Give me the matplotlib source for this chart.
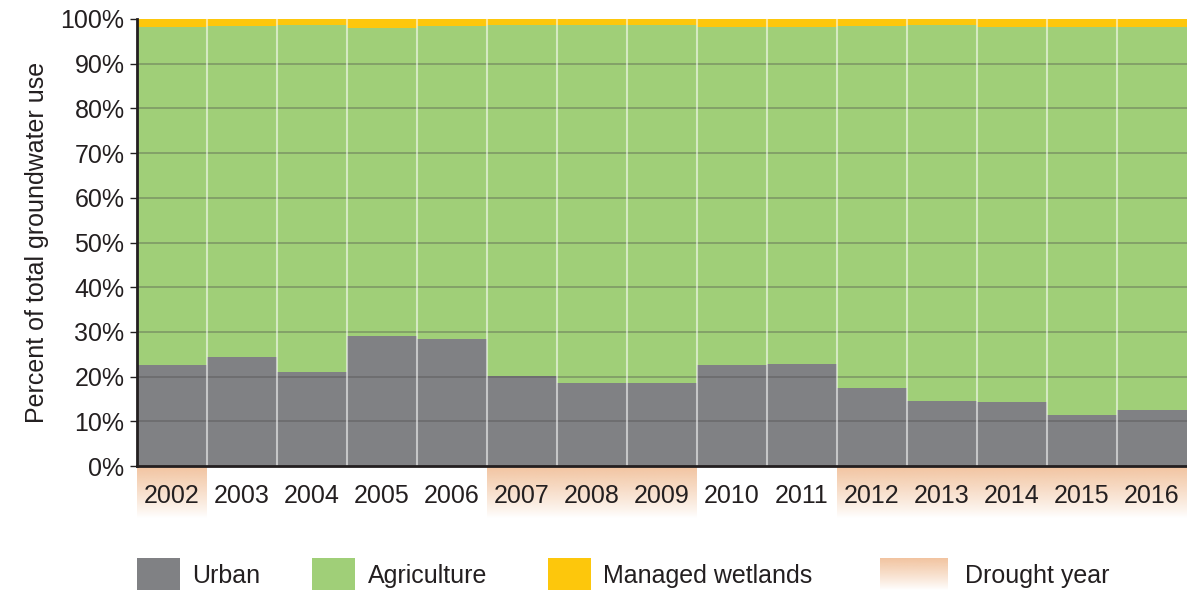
import numpy as np
import matplotlib
matplotlib.use("Agg")
import matplotlib.pyplot as plt
from matplotlib.patches import Rectangle
from matplotlib.colors import to_rgb

plt.rcParams['font.family'] = ['Liberation Sans Narrow', 'Liberation Sans', 'DejaVu Sans']

years = ['2002', '2003', '2004', '2005', '2006', '2007', '2008', '2009',
         '2010', '2011', '2012', '2013', '2014', '2015', '2016']
urban = [22.5, 24.3, 21.0, 29.1, 28.4, 20.2, 18.5, 18.5,
         22.6, 22.9, 17.4, 14.6, 14.3, 11.3, 12.5]
wetlands = [1.7, 1.5, 1.3, 2.0, 1.6, 1.4, 1.4, 1.3,
            1.7, 1.7, 1.5, 1.4, 1.7, 1.7, 1.8]
drought = [True, False, False, False, False, True, True, True,
           False, False, True, True, True, True, True]
yticks = [0, 10, 20, 30, 40, 50, 60, 70, 80, 90, 100]
legend_labels = ['Urban', 'Agriculture', 'Managed wetlands', 'Drought year']

GRAY = '#808184'
GREEN = '#a0cf78'
YELLOW = '#fdc70c'
DROUGHT = '#f2c4a0'
TEXT = '#231f20'

urban_a = np.array(urban)
wet_a = np.array(wetlands)
agri_a = 100 - urban_a - wet_a

W, H = 1187, 590
fig = plt.figure(figsize=(W / 100, H / 100), dpi=100)

x0, x1 = 137, 1187
ytop, ybot = 19, 466
ax = fig.add_axes([x0 / W, 1 - ybot / H, (x1 - x0) / W, (ybot - ytop) / H])
ax.set_zorder(3)
n = len(years)
x = np.arange(n)
ax.bar(x, urban_a, width=1.0, color=GRAY, linewidth=0, zorder=1)
ax.bar(x, agri_a, bottom=urban_a, width=1.0, color=GREEN, linewidth=0, zorder=1)
ax.bar(x, wet_a, bottom=urban_a + agri_a, width=1.0, color=YELLOW, linewidth=0, zorder=1)
ax.set_xlim(-0.5, n - 0.5)
ax.set_ylim(0, 100)

for yv in yticks[1:-1]:
    ax.axhline(yv, color='#4a4a4a', alpha=0.4, lw=1.2, zorder=2)
for i in range(1, n):
    ax.axvline(i - 0.5, color='white', alpha=0.55, lw=1.5, zorder=2)

ax.set_yticks(yticks)
ax.set_yticklabels([f'{v}%' for v in yticks], fontsize=18, color=TEXT)
ax.tick_params(axis='y', length=5, width=1, color=TEXT, pad=4)
ax.set_xticks(x)
ax.set_xticklabels(years, fontsize=18, color=TEXT)
ax.tick_params(axis='x', length=0, pad=13)
for s in ['top', 'right']:
    ax.spines[s].set_visible(False)
ax.spines['left'].set_color(TEXT)
ax.spines['left'].set_linewidth(2)
ax.spines['bottom'].set_color(TEXT)
ax.spines['bottom'].set_linewidth(2)
ax.set_ylabel('Percent of total groundwater use', fontsize=18, color=TEXT, labelpad=8)

# drought strip under tick labels
sbot = 518
sax = fig.add_axes([x0 / W, 1 - sbot / H, (x1 - x0) / W, (sbot - ybot) / H])
sax.set_zorder(1)
sax.set_xlim(-0.5, n - 0.5)
sax.set_ylim(0, 1)
sax.axis('off')
rgb = to_rgb(DROUGHT)
grad = np.zeros((100, 1, 4))
grad[:, 0, :3] = rgb
grad[:, 0, 3] = np.linspace(1.0, 0.0, 100) ** 0.9
for i, d in enumerate(drought):
    if d:
        sax.imshow(grad, extent=(i - 0.5, i + 0.5, 0, 1), aspect='auto',
                   interpolation='bilinear')

# legend
def px_rect(px, py, pw, ph, color):
    fig.add_artist(Rectangle((px / W, 1 - (py + ph) / H), pw / W, ph / H,
                             transform=fig.transFigure, color=color, lw=0))

leg_y, leg_h = 558, 32
px_rect(137, leg_y, 43, leg_h, GRAY)
px_rect(312, leg_y, 43, leg_h, GREEN)
px_rect(548, leg_y, 43, leg_h, YELLOW)
lax = fig.add_axes([880 / W, 1 - (leg_y + leg_h) / H, 68 / W, leg_h / H])
lax.axis('off')
lax.imshow(grad, extent=(0, 1, 0, 1), aspect='auto', interpolation='bilinear')
lax.set_xlim(0, 1)
lax.set_ylim(0, 1)

text_y = 1 - 576 / H
for tx, lab in zip([192, 368, 603, 965], legend_labels):
    fig.text(tx / W, text_y, lab, fontsize=18, color=TEXT, va='center', ha='left')

fig.savefig('out.png', dpi=100)
